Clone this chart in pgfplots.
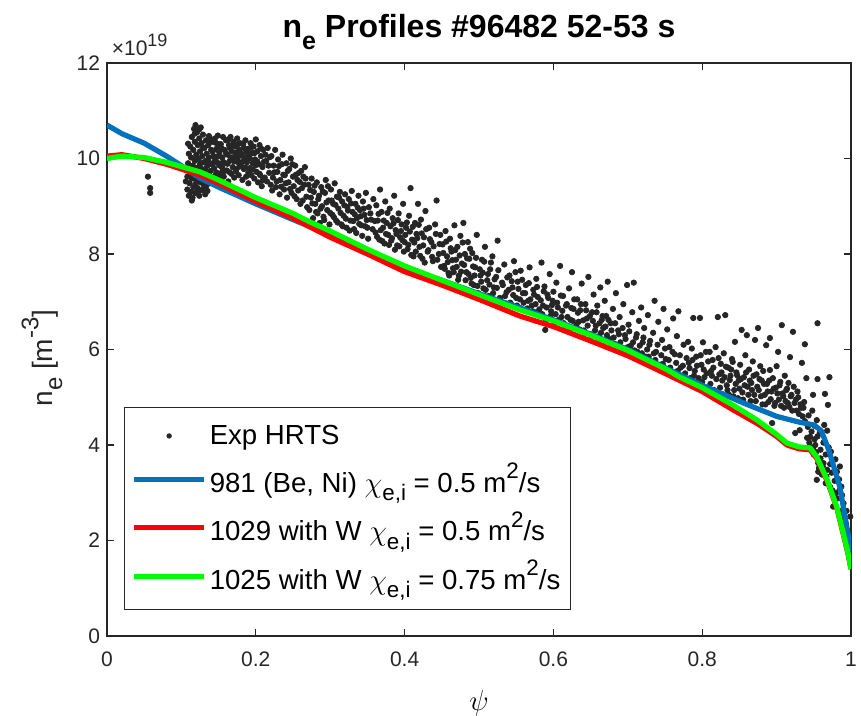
\documentclass[border=0pt]{standalone}
\usepackage{pgfplots}
\pgfplotsset{compat=1.18}
\usepackage{pgfplotstable}
\usepackage{fontspec}
\setmainfont{Liberation Sans}
\definecolor{mblue}{rgb}{0,0.447,0.741}
\definecolor{axgray}{rgb}{0.15,0.15,0.15}
\pgfplotsset{
  mylineleg/.style={legend image code/.code={\draw[##1] (0pt,0pt) -- (35pt,0pt);}},
  mydotleg/.style={legend image code/.code={\fill[black!85, draw=none] (17.5pt,0pt) circle (1.35pt); \path[draw=none, fill=none] (0pt,0pt) (35pt,0pt);}},
}
\newcommand{\chisub}{$\chi$\raisebox{-0.3em}{\fontsize{11.2}{11}\selectfont e,i}}
\newcommand{\sqm}{m\raisebox{0.5em}{\fontsize{11.2}{11}\selectfont 2}}

\pgfplotstableread{
x y
0.055 9.62
0.058 9.38
0.058 9.28
0.108 9.35
0.108 9.62
0.109 9.90
0.110 10.10
0.110 9.22
0.111 9.48
0.112 9.75
0.112 10.25
0.113 9.30
0.113 10.02
0.114 9.58
0.114 10.45
0.115 9.85
0.115 9.18
0.116 10.18
0.116 9.40
0.117 10.62
0.117 9.70
0.118 9.95
0.118 10.35
0.119 9.28
0.119 10.70
0.120 9.55
0.120 10.08
0.121 9.80
0.121 10.55
0.122 9.38
0.122 10.28
0.123 9.65
0.123 9.98
0.124 10.42
0.124 9.22
0.125 9.88
0.125 10.15
0.126 9.50
0.126 10.65
0.127 9.72
0.127 10.32
0.128 9.34
0.128 10.05
0.129 9.60
0.129 10.50
0.130 9.92
0.130 9.45
0.131 10.22
0.132 9.78
0.132 9.25
0.133 10.38
0.134 9.58
0.134 10.10
0.135 9.85
0.135 9.32
0.136 10.28
0.137 9.68
0.137 10.02
0.138 9.48
0.138 10.40
0.139 9.90
0.140 9.62
0.140 10.18
0.141 10.35
0.142 9.55
0.143 10.05
0.144 9.80
0.145 10.42
0.146 9.65
0.147 10.20
0.148 9.92
0.149 10.48
0.150 9.58
0.151 10.12
0.152 9.85
0.153 10.30
0.154 9.70
0.155 10.02
0.156 10.45
0.157 9.62
0.158 10.18
0.159 9.90
0.160 10.38
0.161 9.75
0.162 10.08
0.163 9.52
0.164 10.28
0.165 9.95
0.166 10.45
0.167 9.68
0.168 10.15
0.169 9.82
0.170 10.35
0.171 9.60
0.172 10.05
0.173 10.25
0.174 9.78
0.175 10.42
0.176 9.92
0.177 9.65
0.178 10.18
0.179 10.32
0.180 9.85
0.145 9.95
0.155 9.80
0.165 10.22
0.175 10.00
0.150 10.30
0.181 10.10
0.182 9.55
0.183 10.30
0.184 9.78
0.185 10.02
0.186 10.38
0.187 9.62
0.188 9.92
0.189 10.20
0.190 9.48
0.191 10.05
0.192 9.80
0.193 10.32
0.194 9.65
0.195 10.12
0.196 9.90
0.197 10.25
0.198 9.58
0.199 9.98
0.200 10.40
0.201 9.72
0.202 10.15
0.203 9.50
0.204 9.88
0.205 10.28
0.206 9.65
0.207 10.05
0.208 9.42
0.209 9.82
0.210 10.18
0.212 9.60
0.214 9.95
0.216 10.22
0.218 9.70
0.220 9.45
0.221 10.05
0.223 9.60
0.224 9.85
0.226 10.18
0.227 9.40
0.229 9.72
0.230 9.98
0.232 9.25
0.233 9.55
0.235 9.88
0.236 10.08
0.238 9.35
0.239 9.65
0.241 9.90
0.242 9.18
0.244 9.50
0.245 9.78
0.247 10.00
0.248 9.28
0.250 9.62
0.251 9.42
0.253 9.85
0.255 9.15
0.256 9.55
0.258 9.70
0.260 9.05
0.262 9.38
0.264 9.62
0.266 9.82
0.268 9.20
0.271 9.45
0.272 8.92
0.274 9.18
0.275 9.58
0.277 8.75
0.278 9.30
0.280 9.05
0.282 9.50
0.283 8.85
0.285 9.22
0.286 8.65
0.288 9.40
0.289 9.00
0.291 8.78
0.293 9.28
0.294 9.55
0.296 8.92
0.298 9.12
0.299 8.62
0.301 9.35
0.303 8.82
0.304 9.05
0.306 9.48
0.308 8.70
0.309 9.20
0.311 8.95
0.313 9.30
0.315 8.62
0.316 9.10
0.318 8.80
0.320 9.25
0.322 8.55
0.323 8.98
0.325 9.15
0.327 8.70
0.329 9.32
0.330 8.88
0.332 8.52
0.334 9.05
0.336 8.75
0.338 9.22
0.340 8.92
0.342 8.60
0.344 9.10
0.346 8.82
0.348 9.28
0.350 8.55
0.352 8.98
0.355 8.72
0.358 9.15
0.361 8.45
0.362 9.02
0.364 8.70
0.366 8.30
0.367 9.35
0.369 8.88
0.371 8.55
0.373 8.22
0.374 9.10
0.376 8.65
0.378 8.40
0.380 8.95
0.382 8.28
0.384 8.75
0.386 9.22
0.388 8.50
0.390 8.18
0.392 8.85
0.394 8.35
0.396 8.62
0.398 9.05
0.400 8.25
0.402 8.55
0.404 8.10
0.406 8.80
0.408 9.38
0.410 8.30
0.412 7.95
0.414 8.65
0.416 8.42
0.418 9.05
0.420 8.15
0.422 8.72
0.424 7.90
0.426 8.35
0.428 8.90
0.431 8.05
0.433 8.55
0.436 8.25
0.438 7.85
0.441 8.62
0.443 9.12
0.446 8.00
0.448 8.40
0.451 8.20
0.453 7.75
0.455 8.48
0.457 7.95
0.459 7.60
0.461 8.32
0.463 8.05
0.465 7.70
0.467 8.60
0.469 7.88
0.471 8.15
0.473 7.55
0.475 8.38
0.477 7.80
0.479 8.65
0.481 8.00
0.483 7.62
0.485 8.25
0.487 7.90
0.489 7.50
0.491 8.02
0.493 7.35
0.495 7.72
0.497 8.40
0.499 7.18
0.502 7.55
0.504 7.88
0.506 7.28
0.508 8.15
0.511 7.45
0.513 7.12
0.515 7.68
0.518 7.95
0.520 7.30
0.523 7.52
0.525 8.28
0.528 7.08
0.531 7.40
0.534 7.78
0.537 7.20
0.541 7.55
0.543 6.95
0.545 7.30
0.547 7.85
0.550 7.08
0.552 7.42
0.554 6.88
0.556 7.65
0.559 7.18
0.561 6.82
0.563 7.35
0.566 7.02
0.568 7.72
0.571 6.92
0.573 7.25
0.575 6.78
0.577 7.48
0.579 7.10
0.582 6.70
0.584 7.82
0.586 6.92
0.588 7.32
0.590 6.62
0.592 7.15
0.595 7.58
0.597 6.80
0.599 7.02
0.602 6.55
0.604 7.40
0.606 6.88
0.609 7.75
0.611 6.68
0.613 7.12
0.616 6.50
0.618 6.95
0.621 7.28
0.623 6.62
0.625 7.62
0.627 6.85
0.629 6.45
0.632 7.05
0.634 6.58
0.636 6.82
0.638 7.38
0.641 6.40
0.643 6.95
0.645 6.65
0.647 7.52
0.650 6.32
0.652 6.78
0.654 7.15
0.657 6.50
0.659 6.92
0.661 6.28
0.663 7.30
0.665 6.62
0.667 6.45
0.669 7.02
0.671 6.70
0.673 7.42
0.675 6.22
0.677 6.55
0.680 6.85
0.682 6.12
0.684 7.18
0.687 6.40
0.689 6.68
0.692 6.02
0.694 6.95
0.696 6.30
0.699 7.35
0.701 6.52
0.704 6.08
0.706 6.78
0.708 7.40
0.711 6.25
0.713 5.95
0.715 6.60
0.718 6.88
0.720 6.15
0.722 6.45
0.724 5.85
0.727 6.72
0.729 6.10
0.731 5.75
0.734 6.35
0.736 7.02
0.738 5.95
0.741 6.58
0.743 5.68
0.746 6.20
0.748 6.85
0.751 5.80
0.753 6.42
0.756 6.05
0.758 5.55
0.761 6.65
0.763 5.90
0.766 6.28
0.768 6.80
0.771 5.62
0.775 6.10
0.781 6.16
0.782 5.72
0.784 5.40
0.786 6.02
0.788 6.66
0.790 5.55
0.792 5.85
0.794 5.28
0.797 6.66
0.799 5.68
0.801 6.15
0.803 5.42
0.805 5.95
0.807 5.20
0.810 5.95
0.812 5.55
0.814 5.78
0.816 5.15
0.818 6.05
0.821 6.68
0.823 5.48
0.825 5.70
0.827 5.35
0.829 5.92
0.831 6.72
0.833 5.25
0.835 5.62
0.836 5.05
0.838 5.45
0.840 5.80
0.841 5.74
0.843 5.15
0.844 6.16
0.846 5.52
0.848 4.98
0.849 5.35
0.851 5.68
0.853 6.41
0.854 5.10
0.856 5.42
0.858 5.88
0.860 6.30
0.861 5.22
0.863 5.58
0.865 4.92
0.866 5.30
0.868 5.75
0.870 5.05
0.871 6.20
0.873 5.48
0.875 6.45
0.876 5.15
0.878 5.65
0.880 5.35
0.881 4.85
0.882 5.55
0.884 5.05
0.886 6.09
0.887 5.28
0.889 4.90
0.891 5.57
0.891 6.24
0.893 5.12
0.894 4.46
0.895 5.40
0.897 4.82
0.899 5.20
0.900 5.65
0.902 5.95
0.903 4.95
0.905 5.32
0.907 6.51
0.908 5.08
0.910 4.78
0.911 5.45
0.913 5.15
0.915 4.88
0.916 5.30
0.918 5.84
0.919 5.02
0.921 4.72
0.922 6.37
0.923 5.22
0.925 4.25
0.926 4.95
0.928 5.12
0.930 4.65
0.931 4.31
0.932 4.85
0.934 5.72
0.936 4.78
0.938 6.11
0.938 4.50
0.940 5.40
0.941 4.15
0.943 4.62
0.945 4.17
0.946 3.95
0.948 4.72
0.949 5.05
0.950 3.80
0.951 4.40
0.952 4.00
0.954 4.52
0.954 3.27
0.955 6.55
0.955 5.38
0.956 3.62
0.956 3.44
0.957 3.70
0.958 4.25
0.959 3.90
0.962 3.55
0.963 4.05
0.965 5.07
0.966 3.80
0.967 3.34
0.968 4.30
0.969 4.84
0.971 5.42
0.972 3.60
0.973 3.86
0.975 3.05
0.976 2.71
0.978 3.25
0.980 3.00
0.981 3.44
0.985 3.55
0.985 3.06
0.987 3.13
0.989 2.64
0.990 2.78
0.993 2.35
0.996 2.20
0.999 2.50
0.106 9.52
0.109 10.31
0.111 9.66
0.114 9.12
0.116 9.83
0.118 10.52
0.119 9.47
0.121 10.01
0.123 9.33
0.124 10.61
0.126 9.79
0.128 9.57
0.129 10.23
0.131 9.68
0.133 9.41
0.134 9.96
0.136 9.53
0.137 10.47
0.139 9.74
0.141 9.88
0.142 10.14
0.144 9.61
0.146 10.33
0.147 9.71
0.149 10.04
0.151 9.86
0.153 9.64
0.154 10.21
0.156 9.93
0.158 9.74
0.160 10.11
0.162 9.89
0.163 10.40
0.165 9.71
0.167 10.02
0.169 10.27
0.171 9.94
0.173 9.73
0.174 10.12
0.176 10.30
0.178 9.83
0.180 10.06
0.182 9.93
0.184 10.22
0.186 9.81
0.188 10.13
0.190 9.70
0.192 10.00
0.194 10.24
0.196 9.77
0.198 10.11
0.200 9.86
0.202 9.94
0.205 9.68
0.207 10.21
0.209 9.54
0.211 9.93
0.213 10.08
0.215 9.52
0.217 9.85
0.219 10.03
0.222 9.33
0.225 9.71
0.228 9.52
0.231 9.84
0.234 9.41
0.237 9.66
0.240 9.48
0.243 9.74
0.246 9.36
0.249 9.88
0.252 9.21
0.254 9.66
0.257 9.33
0.259 9.51
0.261 9.74
0.263 9.12
0.265 9.45
0.267 9.58
0.269 8.98
0.273 9.34
0.276 9.06
0.279 9.43
0.281 8.88
0.284 9.15
0.287 8.95
0.290 9.31
0.292 8.71
0.295 9.08
0.297 9.42
0.300 8.86
0.302 9.12
0.305 8.77
0.307 9.03
0.310 8.66
0.312 9.18
0.314 8.86
0.317 8.58
0.319 9.02
0.321 8.74
0.324 8.91
0.326 8.49
0.328 9.06
0.331 8.69
0.333 8.83
0.335 8.44
0.337 8.97
0.339 8.63
0.341 8.79
0.343 8.38
0.345 8.95
0.347 8.58
0.349 8.71
0.351 8.32
0.354 8.85
0.357 8.52
0.360 8.69
0.363 8.36
0.365 8.84
0.368 8.50
0.370 8.27
0.372 8.70
0.375 8.42
0.377 8.86
0.379 8.19
0.381 8.58
0.383 8.33
0.385 8.64
0.387 8.09
0.389 8.42
0.391 8.71
0.393 8.16
0.395 8.48
0.397 8.29
0.399 8.05
0.401 8.40
0.403 8.66
0.405 8.19
0.407 8.47
0.409 7.98
0.411 8.57
0.413 8.24
0.415 8.05
0.417 8.33
0.419 8.61
0.421 7.96
0.423 8.43
0.425 8.18
0.427 7.82
0.429 8.52
0.432 8.08
0.434 8.31
0.437 7.94
0.439 8.16
0.442 8.42
0.444 7.88
0.447 8.21
0.449 7.73
0.452 8.02
0.454 7.69
0.456 8.26
0.458 7.83
0.460 7.55
0.462 8.12
0.464 7.87
0.466 7.62
0.468 8.08
0.470 7.73
0.472 7.46
0.474 7.97
0.476 7.63
0.478 8.24
0.480 7.77
0.482 7.45
0.484 7.91
0.486 7.58
0.488 8.11
0.490 7.38
0.492 7.74
0.494 7.55
0.496 7.92
0.498 7.33
0.501 7.68
0.503 7.42
0.505 7.61
0.507 7.84
0.509 7.25
0.512 7.58
0.514 7.36
0.516 7.82
0.519 7.18
0.521 7.47
0.524 7.29
0.526 7.66
0.529 7.02
0.532 7.35
0.535 7.12
0.538 7.51
0.540 7.25
0.542 6.98
0.544 7.43
0.546 7.14
0.549 7.62
0.551 6.92
0.553 7.27
0.555 7.05
0.558 7.46
0.560 6.98
0.562 7.18
0.565 6.86
0.567 7.39
0.569 7.05
0.572 6.80
0.574 7.15
0.576 6.95
0.578 7.31
0.581 6.84
0.583 7.03
0.585 6.74
0.587 7.22
0.589 6.41
0.591 6.88
0.593 7.08
0.596 6.70
0.598 6.93
0.600 7.21
0.603 6.74
0.605 6.98
0.607 6.62
0.610 7.13
0.612 6.81
0.614 6.55
0.617 6.92
0.619 6.68
0.622 6.44
0.624 6.87
0.626 6.60
0.628 7.05
0.631 6.52
0.633 6.77
0.635 6.42
0.637 6.95
0.640 6.61
0.642 6.35
0.644 6.82
0.646 6.50
0.649 6.70
0.651 6.28
0.653 6.60
0.656 6.40
0.658 6.78
0.660 6.22
0.662 6.55
0.664 6.35
0.666 6.70
0.668 6.18
0.670 6.48
0.672 6.30
0.674 6.62
0.676 6.10
0.678 6.40
0.681 6.25
0.683 6.55
0.685 6.00
0.688 6.32
0.690 6.15
0.693 6.45
0.695 5.95
0.697 6.22
0.700 6.05
0.702 6.38
0.705 5.88
0.707 6.15
0.709 5.98
0.712 6.32
0.714 5.80
0.716 6.08
0.719 5.92
0.721 6.25
0.723 5.72
0.726 6.00
0.728 5.85
0.730 6.18
0.733 5.65
0.735 5.92
0.737 5.78
0.740 6.10
0.742 5.58
0.745 5.88
0.747 5.70
0.750 6.02
0.752 5.50
0.755 5.78
0.757 5.62
0.760 5.95
0.762 5.45
0.765 5.72
0.767 5.55
0.770 5.88
0.772 5.40
0.774 5.66
0.777 5.50
0.779 5.82
0.783 5.61
0.785 5.34
0.787 5.78
0.789 5.45
0.791 5.22
0.793 5.66
0.795 5.40
0.798 5.88
0.800 5.32
0.802 5.58
0.804 5.12
0.806 5.50
0.808 5.75
0.811 5.28
0.813 5.45
0.815 5.62
0.817 5.08
0.819 5.38
0.822 5.82
0.824 5.20
0.826 5.52
0.828 5.06
0.830 5.42
0.832 5.64
0.834 5.15
0.837 5.36
0.839 5.58
0.842 5.02
0.845 5.28
0.847 5.46
0.850 5.18
0.852 5.38
0.855 4.95
0.857 5.25
0.859 5.52
0.862 5.05
0.864 5.35
0.867 5.15
0.869 5.45
0.872 4.92
0.874 5.22
0.877 5.38
0.879 5.02
0.883 5.28
0.885 4.85
0.888 5.12
0.890 5.35
0.892 4.96
0.896 5.18
0.898 4.88
0.901 5.08
0.904 5.25
0.906 4.82
0.909 5.02
0.912 4.92
0.914 5.18
0.917 4.80
0.920 5.05
0.924 4.88
0.927 4.72
0.929 5.00
0.933 4.78
0.935 4.60
0.937 4.90
0.942 4.38
0.944 4.05
0.947 4.28
0.949 3.92
0.951 4.12
0.953 3.85
0.955 4.18
0.957 3.52
0.959 3.72
0.961 3.38
0.963 3.62
0.964 4.42
0.966 3.20
0.968 3.48
0.970 3.95
0.972 3.12
0.974 3.42
0.977 2.95
0.979 3.70
0.982 2.88
0.984 3.28
0.986 2.55
0.988 2.95
0.991 2.45
0.994 2.62
0.997 1.98
}\hrtsdata

\pgfplotstableread{
x y
0.000 10.70
0.020 10.52
0.050 10.32
0.080 10.05
0.100 9.85
0.125 9.59
0.150 9.40
0.200 9.05
0.250 8.72
0.300 8.40
0.350 8.05
0.400 7.72
0.450 7.45
0.500 7.17
0.550 6.90
0.600 6.62
0.650 6.32
0.700 6.00
0.750 5.62
0.800 5.25
0.830 5.05
0.860 4.85
0.900 4.60
0.930 4.48
0.950 4.42
0.960 4.30
0.970 3.90
0.985 3.12
1.000 1.78
}\bluedata

\pgfplotstableread{
x y
0.000 10.05
0.020 10.08
0.050 10.00
0.080 9.88
0.100 9.78
0.125 9.65
0.150 9.48
0.200 9.10
0.250 8.75
0.300 8.35
0.350 8.00
0.400 7.63
0.450 7.35
0.500 7.05
0.555 6.70
0.600 6.48
0.650 6.18
0.700 5.87
0.750 5.50
0.800 5.12
0.840 4.75
0.874 4.45
0.900 4.18
0.914 4.00
0.930 3.92
0.945 3.90
0.954 3.72
0.968 3.25
0.981 2.68
0.996 1.72
1.000 1.40
}\reddata

\pgfplotstableread{
x y
0.000 10.00
0.020 10.05
0.050 10.02
0.080 9.92
0.100 9.83
0.125 9.72
0.150 9.55
0.200 9.18
0.250 8.85
0.273 8.67
0.300 8.48
0.350 8.10
0.400 7.75
0.450 7.45
0.500 7.15
0.555 6.83
0.600 6.60
0.650 6.30
0.700 5.98
0.750 5.60
0.770 5.42
0.800 5.20
0.840 4.85
0.874 4.52
0.900 4.22
0.914 4.04
0.930 3.96
0.945 3.94
0.954 3.75
0.968 3.27
0.981 2.70
0.996 1.74
1.000 1.40
}\greendata

\begin{document}
\begin{tikzpicture}
\useasboundingbox (-53.5pt,-40pt) rectangle (377pt,318pt);
\begin{axis}[
  scale only axis,
  width=372pt, height=286.5pt,
  xmin=0, xmax=1, ymin=0, ymax=12,
  xtick={0,0.2,0.4,0.6,0.8,1},
  xticklabels={0,0.2,0.4,0.6,0.8,1},
  ytick={0,2,4,6,8,10,12},
  tick align=inside,
  major tick length=3.5pt,
  clip mode=individual,
  axis line style={draw=axgray, line width=0.6pt},
  tick style={draw=axgray, line width=0.6pt},
  ticklabel style={font=\fontsize{10.5}{12}\selectfont, text=axgray},
  xticklabel style={yshift=-4.5pt},
  /pgf/number format/assume math mode=true,
  every axis title shift=0pt,
  title={\bfseries n\raisebox{-0.35em}{\fontsize{12.5}{12}\selectfont e} Profiles \#96482 52-53 s},
  title style={at={(axis description cs:0.5,1)}, anchor=base, yshift=12.5pt, font=\fontsize{16}{18}\selectfont},
  xlabel={$\psi$},
  xlabel style={at={(axis description cs:0.5,0)}, anchor=center, yshift=-33.5pt, font=\fontsize{14}{16}\selectfont},
  ylabel={n\raisebox{-0.35em}{\fontsize{12}{12}\selectfont e} [m\raisebox{0.5em}{\fontsize{12}{12}\selectfont -3}]},
  ylabel style={at={(axis description cs:-0.0874,0.485)}, anchor=center, font=\fontsize{14}{16}\selectfont, text=axgray},
  legend style={at={(rel axis cs:0.0228,0.0454)}, anchor=south west, draw=axgray, line width=0.6pt,
    font=\fontsize{13.8}{16}\selectfont, inner xsep=3.5pt, inner ysep=7pt, row sep=5pt,
    nodes={inner sep=1.5pt}},
  legend cell align=left,
  /tikz/every even column/.append style={column sep=4pt},
]
\addplot[only marks, mark=*, mark size=1.35pt, color=black!85, mydotleg]
  table[x=x,y=y]{\hrtsdata};
\addlegendentry{Exp HRTS}
\addplot[mblue, line width=2.6pt, line join=round, mylineleg] table[x=x,y=y]{\bluedata};
\addlegendentry{981 (Be, Ni) \chisub{} = 0.5 \sqm/s}
\addplot[red, line width=2.6pt, line join=round, mylineleg] table[x=x,y=y]{\reddata};
\addlegendentry{1029 with W \chisub{} = 0.5 \sqm/s}
\addplot[green, line width=2.6pt, line join=round, mylineleg] table[x=x,y=y]{\greendata};
\addlegendentry{1025 with W \chisub{} = 0.75 \sqm/s}
\node[anchor=south west, text=axgray, font=\fontsize{10.5}{12}\selectfont, inner sep=0pt] at (axis description cs:0.006,1.012) {×10\raisebox{0.45em}{\fontsize{9}{9}\selectfont 19}};
\end{axis}
\end{tikzpicture}
\end{document}
